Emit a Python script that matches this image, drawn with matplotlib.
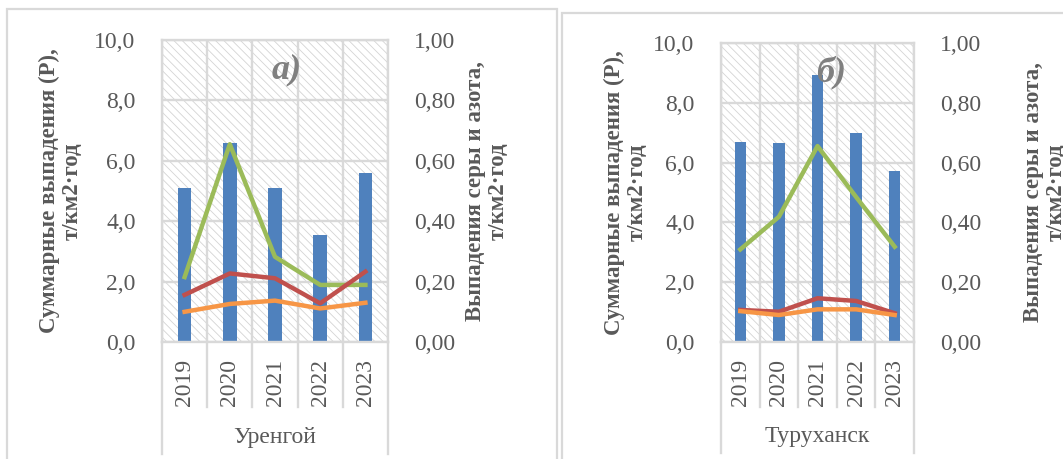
import numpy as np
import matplotlib.pyplot as plt
from matplotlib.patches import Rectangle

# data
years = ['2019', '2020', '2021', '2022', '2023']

urengoy_total = [5.11, 6.60, 5.10, 3.54, 5.58]
urengoy_green = [0.215, 0.655, 0.282, 0.189, 0.189]
urengoy_red = [0.156, 0.227, 0.211, 0.128, 0.233]
urengoy_orange = [0.100, 0.126, 0.137, 0.111, 0.130]

turukhansk_total = [6.69, 6.65, 8.91, 6.99, 5.71]
turukhansk_green = [0.310, 0.419, 0.655, 0.485, 0.319]
turukhansk_red = [0.108, 0.102, 0.147, 0.138, 0.097]
turukhansk_orange = [0.104, 0.091, 0.110, 0.110, 0.091]

left_title = 'Суммарные выпадения (Р),\nт/км2·год'
right_title = 'Выпадения серы и азота,\nт/км2·год'

plt.rcParams['font.family'] = ['Liberation Serif', 'DejaVu Serif']
plt.rcParams['hatch.linewidth'] = 0.6

GRID = '#d9d9d9'
TXT = '#595959'
FS = 17
W, H = 1063, 459


def px_axes(fig, x0, x1, y0, y1):
    return fig.add_axes([x0 / W, 1 - y1 / H, (x1 - x0) / W, (y1 - y0) / H])


def draw_panel(fig, box, totals, green, red, orange, place, tag, tag_x,
               lab_left, lab_right):
    ax = px_axes(fig, *box)
    n = len(years)
    x = np.arange(n)

    ax.bar(x, totals, width=0.3, color='#4f81bd', zorder=2)
    ax.set_xlim(-0.5, n - 0.5)
    ax.set_ylim(0, 10)
    ax.set_yticks(np.arange(0, 10.1, 2))
    ax.set_yticklabels([f'{v:.1f}'.replace('.', ',') for v in np.arange(0, 10.1, 2)])
    ax.set_xticks(x)
    ax.set_xticklabels(years, rotation=90, va='top')
    ax.set_axisbelow(True)
    ax.grid(axis='y', color=GRID, lw=1.7)
    for b in np.arange(-0.5, n, 1.0):
        ax.axvline(b, color=GRID, lw=1.7, zorder=1)
    for s in ax.spines.values():
        s.set_color(GRID)
        s.set_linewidth(1.7)
    ax.tick_params(axis='both', length=0, labelsize=FS, colors=TXT)
    ax.tick_params(axis='y', pad=19)
    ax.tick_params(axis='x', pad=12)

    # category axis separators below the plot
    for i, b in enumerate(np.arange(-0.5, n, 1.0)):
        depth = -0.37 if i in (0, n) else -0.215
        ax.plot([b, b], [0, depth], color=GRID, lw=1.7, clip_on=False,
                transform=ax.get_xaxis_transform())
    ax.text((n - 1) / 2, -0.315, place, transform=ax.get_xaxis_transform(),
            ha='center', va='center', fontsize=FS, color=TXT)

    ax.set_ylabel(left_title, fontsize=16.5, fontweight='bold', color=TXT,
                  linespacing=1.1)
    ax.yaxis.set_label_coords(lab_left, 0.5)
    ax.yaxis.label.set_va('center')

    ax2 = ax.twinx()
    ax2.plot(x, green, color='#9bbb59', lw=3.2, zorder=3)
    ax2.plot(x, red, color='#c0504d', lw=3.2, zorder=3)
    ax2.plot(x, orange, color='#f79646', lw=3.2, zorder=3)
    ax2.set_ylim(0, 1)
    ax2.set_yticks(np.arange(0, 1.01, 0.2))
    ax2.set_yticklabels([f'{v:.2f}'.replace('.', ',') for v in np.arange(0, 1.01, 0.2)])
    ax2.tick_params(axis='y', length=0, labelsize=FS, colors=TXT, pad=19)
    for s in ax2.spines.values():
        s.set_visible(False)
    ax2.set_ylabel(right_title, fontsize=16.5, fontweight='bold', color=TXT,
                   linespacing=1.1)
    ax2.yaxis.set_label_coords(lab_right, 0.5)
    ax2.yaxis.label.set_va('center')

    ax.text(tag_x, 0.9, tag, transform=ax.transAxes, ha='center', va='center',
            fontsize=26, fontstyle='italic', fontweight='bold', color='#808080',
            zorder=4)

    # light hatch on the plot area
    ax.patch.set_hatch('\\\\\\\\')
    ax.patch.set_edgecolor('#d4d4d4')
    return ax


fig = plt.figure(figsize=(W / 100, H / 100), dpi=100)
fig.patches.append(Rectangle((7 / W, -0.1), 550 / W, 1.1 - 9 / H, transform=fig.transFigure,
                             fill=False, edgecolor=GRID, lw=1.6))
fig.patches.append(Rectangle((562 / W, -0.1), 600 / W, 1.1 - 13 / H, transform=fig.transFigure,
                             fill=False, edgecolor=GRID, lw=1.6))

draw_panel(fig, (162, 388, 40, 342), urengoy_total, urengoy_green, urengoy_red,
           urengoy_orange, 'Уренгой', 'а)', 0.55, -0.449, 1.436)
draw_panel(fig, (721, 914, 42.7, 342.3), turukhansk_total, turukhansk_green,
           turukhansk_red, turukhansk_orange, 'Туруханск', 'б)', 0.57, -0.492, 1.679)

fig.savefig('out.png', dpi=100)
